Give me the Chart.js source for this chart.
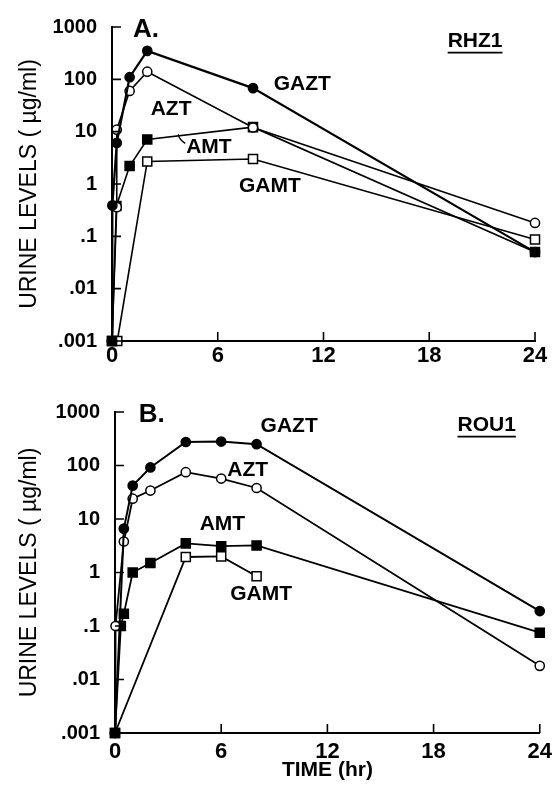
<!DOCTYPE html>
<html>
<head>
<meta charset="utf-8">
<script src="https://cdn.jsdelivr.net/npm/chart.js@4/dist/chart.umd.min.js"></script>
<style>
  html, body { margin: 0; padding: 0; background: #fff; }
  #wrap { position: relative; width: 558px; height: 791px; }
  canvas { position: absolute; left: 0; }
</style>
</head>
<body>
<div id="wrap">
  <canvas id="chartA" width="558" height="385" style="top:0"></canvas>
  <canvas id="chartB" width="558" height="406" style="top:385px"></canvas>
</div>
<script>
const yTicks = [0.001, 0.01, 0.1, 1, 10, 100, 1000];
const yTickLabels = ['.001', '.01', '.1', '1', '10', '100', '1000'];
const xTicks = [0, 6, 12, 18, 24];

// panel A (RHZ1): time in hr, urine level in ug/ml
const gaztA_t = [0, 0.02, 0.27, 1, 2, 8, 24];
const gaztA_v = [0.001, 0.39, 6.1, 110, 350, 68, 0.05];
const aztA_t = [0, 0.27, 0.27, 1, 2, 8, 24];
const aztA_v = [0.001, 0.36, 10.9, 60, 140, 12, 0.18];
const amtA_t = [0, 0.25, 1, 2, 8, 24];
const amtA_v = [0.001, 0.38, 2.2, 7.1, 12.2, 0.05];
const gamtA_t = [0, 0.3, 2, 8, 24];
const gamtA_v = [0.001, 0.001, 2.7, 3.0, 0.087];

// panel B (ROU1)
const gaztB_t = [0, 0.5, 1, 2, 4, 6, 8, 24];
const gaztB_v = [0.001, 6.6, 42, 92, 275, 280, 250, 0.19];
const aztB_t = [0, 0.03, 0.5, 1, 2, 4, 6, 8, 24];
const aztB_v = [0.001, 0.1, 3.8, 24, 34, 75, 57, 38, 0.018];
const amtB_t = [0, 0.33, 0.5, 1, 2, 4, 6, 8, 24];
const amtB_v = [0.001, 0.1, 0.17, 1.0, 1.5, 3.5, 3.1, 3.2, 0.075];
const gamtB_t = [0, 4, 6, 8];
const gamtB_v = [0.001, 1.95, 2.0, 0.85];

// text annotations, placed in data coordinates
const notesA_text = ['A.', 'RHZ1', 'GAZT', 'AZT', 'AMT', 'GAMT'];
const notesA_t = [1.93, 20.6, 10.8, 3.35, 5.5, 8.96];
const notesA_v = [900, 525, 79, 27, 5.0, 0.9];
const notesB_text = ['B.', 'ROU1', 'GAZT', 'AZT', 'AMT', 'GAMT'];
const notesB_t = [2.08, 21.0, 9.84, 7.5, 6.07, 8.26];
const notesB_v = [900, 556, 533, 81, 8.1, 0.4];

const FONT = "'Liberation Sans', Arial, Helvetica, sans-serif";

function pts(t, v) { return t.map((x, i) => ({ x, y: v[i] })); }

function series(t, v, style, lw) {
  const filled = style === 'filledCircle' || style === 'filledRect';
  const isRect = style === 'filledRect' || style === 'openRect';
  return {
    data: pts(t, v),
    borderColor: '#000',
    borderWidth: lw,
    pointStyle: isRect ? 'rect' : 'circle',
    pointRadius: isRect ? 6.4 : 4.6,
    pointBackgroundColor: filled ? '#000' : '#fff',
    pointBorderColor: '#000',
    pointBorderWidth: 1.5,
    tension: 0,
    clip: false
  };
}

const inwardTicks = {
  id: 'inwardTicks',
  afterDraw(chart) {
    const { ctx, chartArea, scales } = chart;
    ctx.save();
    ctx.strokeStyle = '#000';
    ctx.lineWidth = 1.6;
    ctx.beginPath();
    yTicks.forEach(v => {
      const py = scales.y.getPixelForValue(v);
      ctx.moveTo(chartArea.left, py);
      ctx.lineTo(chartArea.left + 9, py);
    });
    xTicks.forEach(t => {
      const px = scales.x.getPixelForValue(t);
      ctx.moveTo(px, chartArea.bottom);
      ctx.lineTo(px, chartArea.bottom - 9);
    });
    ctx.stroke();
    ctx.restore();
  }
};

const notesPlugin = {
  id: 'notes',
  afterDraw(chart, args, opts) {
    const { ctx, scales } = chart;
    ctx.save();
    ctx.fillStyle = '#000';
    ctx.strokeStyle = '#000';
    ctx.textAlign = 'center';
    ctx.textBaseline = 'middle';
    opts.text.forEach((txt, i) => {
      const px = scales.x.getPixelForValue(opts.t[i]);
      const py = scales.y.getPixelForValue(opts.v[i]);
      const big = i === 0;
      ctx.font = `bold ${big ? 26 : 21}px ${FONT}`;
      ctx.fillText(txt, px, py);
      const w = ctx.measureText(txt).width;
      if (i === 1) {
        ctx.lineWidth = 1.6;
        ctx.beginPath();
        ctx.moveTo(px - w / 2, py + 11);
        ctx.lineTo(px + w / 2, py + 11);
        ctx.stroke();
      }
      if (opts.hook && txt === 'AMT') {
        ctx.lineWidth = 1.4;
        ctx.beginPath();
        ctx.moveTo(px - w / 2 - 1, py - 4);
        ctx.quadraticCurveTo(px - w / 2 - 7, py - 8, px - w / 2 - 8, py - 13);
        ctx.stroke();
      }
    });
    ctx.restore();
  }
};

function makeChart(id, sets, notes, o) {
  return new Chart(document.getElementById(id), {
    type: 'line',
    data: { datasets: sets },
    options: {
      responsive: false,
      animation: false,
      layout: { padding: { top: o.top, right: o.right, left: 0, bottom: 0 } },
      plugins: { legend: { display: false }, tooltip: { enabled: false }, notes },
      scales: {
        x: {
          type: 'linear', min: 0, max: 24,
          afterBuildTicks: s => { s.ticks = xTicks.map(value => ({ value })); },
          afterFit: s => { s.height = o.xh; },
          grid: { display: false, drawTicks: false },
          border: { color: '#000', width: 2 },
          ticks: { color: '#000', padding: o.xpad, font: { family: FONT, size: 22, weight: 'bold' } },
          title: { display: o.xtitle, text: 'TIME (hr)', color: '#000', padding: { top: 0, bottom: 8 },
                   font: { family: FONT, size: 21, weight: 'bold' } }
        },
        y: {
          type: 'logarithmic', min: 0.001, max: 1000,
          afterBuildTicks: s => { s.ticks = yTicks.map(value => ({ value })); },
          afterFit: s => { s.width = o.yw; },
          grid: { display: false, drawTicks: false },
          border: { color: '#000', width: 2 },
          ticks: { color: '#000', padding: 15, font: { family: FONT, size: 20, weight: 'bold' },
                   callback: v => yTickLabels[yTicks.indexOf(v)] ?? '' },
          title: { display: true, text: 'URINE LEVELS ( µg/ml)', color: '#000', padding: { top: 16, bottom: 0 },
                   font: { family: FONT, size: 23 } }
        }
      }
    },
    plugins: [inwardTicks, notesPlugin]
  });
}

makeChart('chartA', [
  series(gaztA_t, gaztA_v, 'filledCircle', 2.2),
  series(aztA_t, aztA_v, 'openCircle', 1.6),
  series(amtA_t, amtA_v, 'filledRect', 1.6),
  series(gamtA_t, gamtA_v, 'openRect', 1.6)
], { text: notesA_text, t: notesA_t, v: notesA_v, hook: true },
{ top: 20, right: 23, yw: 112, xh: 44, xpad: 2, xtitle: false });

makeChart('chartB', [
  series(gaztB_t, gaztB_v, 'filledCircle', 2),
  series(aztB_t, aztB_v, 'openCircle', 1.8),
  series(amtB_t, amtB_v, 'filledRect', 1.8),
  series(gamtB_t, gamtB_v, 'openRect', 1.8)
], { text: notesB_text, t: notesB_t, v: notesB_v, hook: false },
{ top: 18, right: 16, yw: 115, xh: 58, xpad: 6, xtitle: true });
</script>
</body>
</html>
